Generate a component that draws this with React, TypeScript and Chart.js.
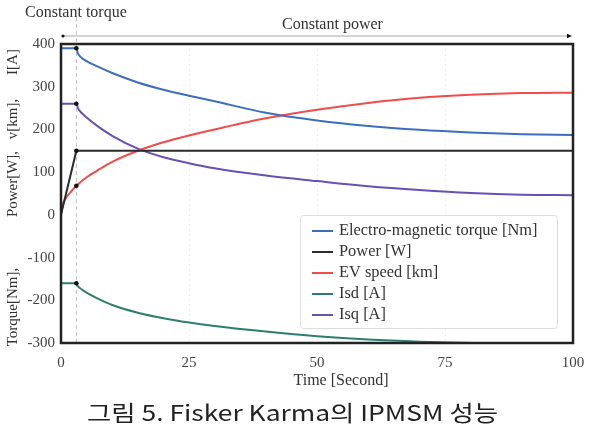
import React, { useEffect, useRef } from "react";
import { Chart, registerables } from "chart.js";

Chart.register(...registerables);

// ---- data ----
const curveTime = [0, 3, 3.3, 4, 5, 7, 10, 15, 20, 25, 30, 40, 50, 60, 70, 80, 90, 100];
const torqueValues = [390, 390, 378, 368, 360, 348, 332, 310, 293, 279, 266, 239, 221, 208, 199, 193, 189, 187];
const isqValues = [260, 260, 250, 239, 228, 209, 185, 155, 135, 121, 109, 92, 79, 67, 58, 51, 47, 46];
const isdValues = [-160, -160, -167, -174, -182, -195, -211, -229, -242, -252, -260, -273, -284, -292, -297, -300, -301, -302];

const speedTime = [0, 0.3, 1, 2, 3, 5, 7, 10, 15, 20, 25, 30, 40, 50, 60, 70, 80, 90, 100];
const speedValues = [0, 22, 40, 55, 68, 88, 103, 124, 150, 170, 186, 200, 226, 246, 262, 274, 281, 285, 286];

const powerTime = [0, 3, 100];
const powerValues = [0, 150, 150];

const seriesLabels = [
  "Electro-magnetic torque [Nm]",
  "Power [W]",
  "EV speed [km]",
  "Isd [A]",
  "Isq [A]",
];
const seriesColors = ["#3c6ec0", "#2b2b2b", "#f24b4b", "#2e7d72", "#6950b4"];

const xTicks = [0, 25, 50, 75, 100];
const yMin = -300;
const yMax = 400;
const switchTime = 3;

const yTitleParts = ["Torque[Nm],", "Power[W],", "v[km],", "I[A]"];
const caption = "그림 5. Fisker Karma의 IPMSM 성능";

const SERIF = "'Liberation Serif', 'DejaVu Serif', serif";

const pts = (xs: number[], ys: number[]) => xs.map((x, i) => ({ x, y: ys[i] }));

const extrasPlugin = {
  id: "extras",
  beforeDatasetsDraw(chart: any) {
    const { ctx, chartArea, scales } = chart;
    const x = scales.x.getPixelForValue(switchTime);
    ctx.save();
    ctx.strokeStyle = "#bdbdbd";
    ctx.lineWidth = 1;
    ctx.setLineDash([4, 3]);
    ctx.beginPath();
    ctx.moveTo(x, 17);
    ctx.lineTo(x, chartArea.bottom);
    ctx.stroke();
    ctx.restore();
  },
  afterDraw(chart: any) {
    const { ctx, chartArea, scales } = chart;
    const { left, right, top, bottom } = chartArea;
    ctx.save();

    // frame
    ctx.strokeStyle = "#222";
    ctx.lineWidth = 2.5;
    ctx.strokeRect(left, top, right - left, bottom - top);

    // top arrow line
    const ay = 36;
    const ax0 = scales.x.getPixelForValue(0) + 1;
    const ax1 = scales.x.getPixelForValue(100) - 1;
    ctx.strokeStyle = "#c4c4c4";
    ctx.lineWidth = 1.5;
    ctx.beginPath();
    ctx.moveTo(ax0, ay);
    ctx.lineTo(ax1 - 4, ay);
    ctx.stroke();
    ctx.fillStyle = "#111";
    ctx.beginPath();
    ctx.arc(ax0 + 1, ay, 1.6, 0, Math.PI * 2);
    ctx.fill();
    ctx.beginPath();
    ctx.moveTo(ax1, ay);
    ctx.lineTo(ax1 - 5, ay - 2.2);
    ctx.lineTo(ax1 - 5, ay + 2.2);
    ctx.closePath();
    ctx.fill();

    // annotations
    ctx.fillStyle = "#333";
    ctx.font = `16px ${SERIF}`;
    ctx.textBaseline = "middle";
    ctx.textAlign = "left";
    ctx.fillText("Constant torque", 25, 13);
    ctx.fillText("Constant power", 282, 25);

    // x title
    ctx.font = `16px ${SERIF}`;
    ctx.textAlign = "center";
    ctx.fillText("Time [Second]", 341, 381);

    // y title pieces
    const yCenters = [307, 184, 119, 62];
    ctx.font = `15px ${SERIF}`;
    yTitleParts.forEach((t, i) => {
      ctx.save();
      ctx.translate(13, yCenters[i]);
      ctx.rotate(-Math.PI / 2);
      ctx.textAlign = "center";
      ctx.textBaseline = "middle";
      ctx.fillText(t, 0, 0);
      ctx.restore();
    });

    // legend
    const lx = 300, ly = 215, lw = 257, lh = 113;
    ctx.fillStyle = "#fff";
    ctx.strokeStyle = "#dddddd";
    ctx.lineWidth = 1;
    ctx.beginPath();
    (ctx as any).roundRect(lx + 0.5, ly + 0.5, lw, lh, 3);
    ctx.fill();
    ctx.stroke();
    ctx.font = `16.4px ${SERIF}`;
    ctx.textAlign = "left";
    ctx.textBaseline = "middle";
    chart.data.datasets.forEach((ds: any, i: number) => {
      const ry = 231 + i * 21;
      ctx.strokeStyle = ds.borderColor;
      ctx.lineWidth = 2;
      ctx.beginPath();
      ctx.moveTo(312, ry);
      ctx.lineTo(333, ry);
      ctx.stroke();
      ctx.fillStyle = "#333";
      ctx.fillText(ds.label, 339, ry);
    });

    // caption
    ctx.fillStyle = "#222";
    ctx.font = "22px 'Noto Sans CJK KR', 'Noto Sans', sans-serif";
    ctx.textAlign = "left";
    ctx.textBaseline = "middle";
    const w = ctx.measureText(caption).width;
    const targetW = 411;
    ctx.save();
    ctx.translate(87, 413);
    ctx.scale(targetW / w, 1);
    ctx.fillText(caption, 0, 0);
    ctx.restore();

    ctx.restore();
  },
};

export default function App() {
  const ref = useRef<HTMLCanvasElement | null>(null);
  useEffect(() => {
    if (!ref.current) return;
    const markerRadius = (c: any) => (c.raw && c.raw.x === switchTime ? 2.3 : 0);
    const common = {
      borderWidth: 2,
      pointRadius: markerRadius,
      pointHoverRadius: 0,
      pointBackgroundColor: "#111",
      pointBorderWidth: 0,
      fill: false,
    };
    const chart = new Chart(ref.current, {
      type: "line",
      data: {
        datasets: [
          { ...common, label: seriesLabels[0], borderColor: seriesColors[0], data: pts(curveTime, torqueValues), cubicInterpolationMode: "monotone" },
          { ...common, label: seriesLabels[1], borderColor: seriesColors[1], data: pts(powerTime, powerValues), tension: 0 },
          { ...common, label: seriesLabels[2], borderColor: seriesColors[2], data: pts(speedTime, speedValues), cubicInterpolationMode: "monotone" },
          { ...common, label: seriesLabels[3], borderColor: seriesColors[3], data: pts(curveTime, isdValues), cubicInterpolationMode: "monotone" },
          { ...common, label: seriesLabels[4], borderColor: seriesColors[4], data: pts(curveTime, isqValues), cubicInterpolationMode: "monotone" },
        ] as any,
      },
      options: {
        responsive: false,
        devicePixelRatio: 1,
        animation: false,
        events: [],
        layout: { padding: { top: 44, right: 16, left: 0, bottom: 0 } },
        plugins: { legend: { display: false }, tooltip: { enabled: false }, title: { display: false } },
        scales: {
          x: {
            type: "linear",
            min: 0,
            max: 100,
            afterBuildTicks: (s: any) => { s.ticks = xTicks.map((v) => ({ value: v })); },
            afterFit: (s: any) => { s.height = 82; s.paddingLeft = 0; s.paddingRight = 0; },
            border: { display: false, dash: [2, 3] },
            grid: { color: "rgba(0,0,0,0.06)", drawTicks: false, lineWidth: 1 },
            ticks: { color: "#444", font: { family: SERIF, size: 15 }, padding: 11, maxRotation: 0 },
          },
          y: {
            type: "linear",
            min: yMin,
            max: yMax,
            afterFit: (s: any) => { s.width = 61; s.paddingTop = 0; s.paddingBottom = 0; },
            border: { display: false },
            grid: { display: false, drawTicks: false },
            ticks: { stepSize: 100, color: "#444", font: { family: SERIF, size: 15 }, padding: 6 },
          },
        },
      } as any,
      plugins: [extrasPlugin],
    });
    return () => chart.destroy();
  }, []);
  return (
    <div style={{ position: "absolute", left: 0, top: 0, width: 589, height: 425, background: "#fff" }}>
      <canvas ref={ref} width={589} height={425} />
    </div>
  );
}
